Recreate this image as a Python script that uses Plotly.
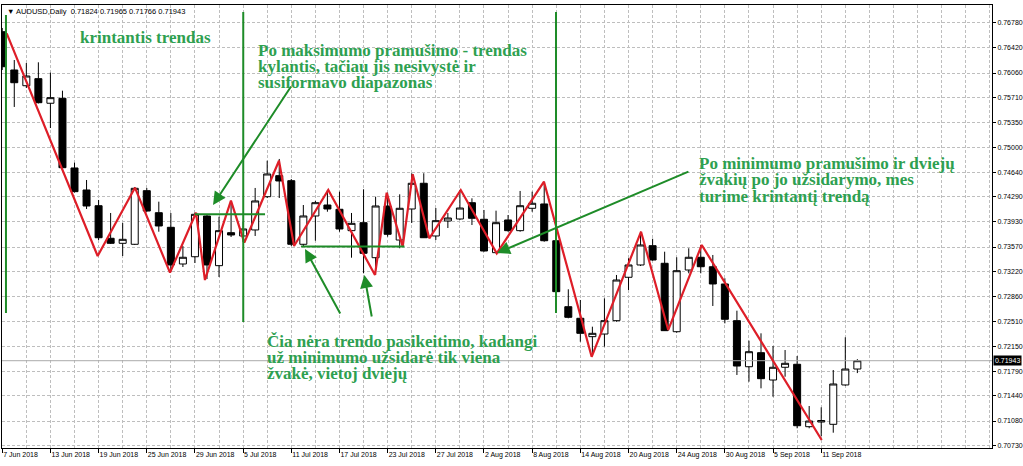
"""
AUDUSD daily chart with hand drawn trend notes (MT4 style)
"""
import pandas as pd
import plotly.graph_objects as go


# bars: trading days 7 Jun 2018 .. 14 Sep 2018
dates = pd.bdate_range('2018-06-07', '2018-09-14')

opens = [0.76651, 0.76103, 0.75878, 0.75979, 0.75627, 0.75698, 0.74701, 0.74386, 0.74161, 0.73695,
         0.73623, 0.73609, 0.74376, 0.74061, 0.73852, 0.73327, 0.73431, 0.74014, 0.73303, 0.73775,
         0.73728, 0.73814, 0.74290, 0.74591, 0.74519, 0.73609, 0.74014, 0.74171, 0.74110, 0.73804,
         0.73918, 0.73417, 0.74157, 0.73670, 0.74114, 0.74482, 0.73728, 0.73942, 0.73971, 0.74204,
         0.73967, 0.73489, 0.73957, 0.73804, 0.74124, 0.74186, 0.73660, 0.72716, 0.72550, 0.72287,
         0.72325, 0.72516, 0.73137, 0.73313, 0.73589, 0.73337, 0.72358, 0.73241, 0.73423, 0.73288,
         0.73041, 0.72516, 0.71857, 0.72058, 0.71667, 0.71849, 0.71892, 0.70999, 0.71066, 0.71033,
         0.71596, 0.71824]
highs = [0.76704, 0.76246, 0.76203, 0.76213, 0.76065, 0.75807, 0.74777, 0.74529, 0.74243, 0.74057,
         0.73914, 0.74429, 0.74415, 0.74219, 0.74057, 0.73585, 0.74061, 0.74028, 0.74004, 0.74200,
         0.73928, 0.74415, 0.74805, 0.74830, 0.74543, 0.74171, 0.74229, 0.74386, 0.74362, 0.74057,
         0.74396, 0.74290, 0.74347, 0.74324, 0.74625, 0.74625, 0.74128, 0.74057, 0.74386, 0.74267,
         0.74100, 0.74090, 0.74028, 0.74372, 0.74362, 0.74505, 0.73814, 0.72965, 0.72812, 0.72430,
         0.72836, 0.73170, 0.73409, 0.73789, 0.73688, 0.73503, 0.73423, 0.73552, 0.73599, 0.73456,
         0.73122, 0.72659, 0.72230, 0.72335, 0.72154, 0.72096, 0.72010, 0.71295, 0.71276, 0.71810,
         0.72278, 0.71965]
lows = [0.76103, 0.75574, 0.75846, 0.75624, 0.75273, 0.74694, 0.74350, 0.74114, 0.73670, 0.73613,
        0.73441, 0.73599, 0.74075, 0.73789, 0.73213, 0.73284, 0.73341, 0.73112, 0.73141, 0.73713,
        0.73642, 0.73728, 0.74271, 0.74271, 0.73585, 0.73575, 0.73660, 0.74075, 0.73789, 0.73417,
        0.73194, 0.73170, 0.73718, 0.73552, 0.73914, 0.73699, 0.73670, 0.73842, 0.73957, 0.73885,
        0.73503, 0.73480, 0.73789, 0.73789, 0.74075, 0.73646, 0.72912, 0.72550, 0.72215, 0.72010,
        0.72144, 0.72501, 0.72955, 0.73298, 0.73374, 0.72368, 0.72344, 0.73194, 0.73194, 0.72726,
        0.72478, 0.71739, 0.71643, 0.71548, 0.71428, 0.71714, 0.70976, 0.70976, 0.70866, 0.70913,
        0.71585, 0.71766]
closes = [0.76150, 0.75921, 0.76017, 0.75635, 0.75707, 0.74705, 0.74362, 0.74157, 0.73703, 0.73623,
          0.73680, 0.74410, 0.74085, 0.73871, 0.73313, 0.73423, 0.74038, 0.73313, 0.73804, 0.73742,
          0.73828, 0.74229, 0.74615, 0.74515, 0.73609, 0.74014, 0.74204, 0.74114, 0.73828, 0.73909,
          0.73480, 0.74157, 0.73752, 0.74124, 0.74482, 0.73703, 0.73947, 0.73985, 0.74128, 0.73981,
          0.73513, 0.73918, 0.73804, 0.74161, 0.74196, 0.73660, 0.72931, 0.72564, 0.72335, 0.72335,
          0.72516, 0.73098, 0.73313, 0.73599, 0.73384, 0.72373, 0.73231, 0.73423, 0.73288, 0.73041,
          0.72536, 0.71867, 0.72072, 0.71686, 0.71849, 0.71906, 0.71013, 0.71080, 0.71087, 0.71610,
          0.71824, 0.71943]

# price scale labels as printed by the terminal
price_ticks = [0.76780, 0.76420, 0.76060, 0.75710, 0.75350, 0.75000, 0.74640, 0.74290, 0.73930,
               0.73570, 0.73220, 0.72860, 0.72510, 0.72150, 0.71790, 0.71440, 0.71080, 0.70730]

# red zig-zag drawn over the bars (bar index, price)
zz_bar = [0.37, 7.92, 11.02, 13.93, 16.09, 16.83, 18.99, 20.1, 22.98, 24.23, 27.07, 30.95,
          31.92, 33.25, 34.08, 35.46, 38.07, 41.06, 44.98, 48.94, 53.04, 55.3, 58.08, 68.04]
zz_price = [0.76628, 0.73441, 0.74419, 0.73203, 0.74061, 0.73098, 0.74233, 0.73632, 0.74805,
            0.73585, 0.74386, 0.73170, 0.74347, 0.73575, 0.74611, 0.73695, 0.74386, 0.73480,
            0.74505, 0.71999, 0.73789, 0.72383, 0.73599, 0.70808]

# green marks: vertical lines, horizontal levels, arrows (tail -> head)
vline_bar = [0.31, 20.01, 45.98]
vline_top = [0.76890, 0.76933, 0.76933]
vline_bottom = [0.72626, 0.72497, 0.72626]
level_bars = [(16.0, 21.82), (24.8, 33.4)]
level_price = [0.74038, 0.73578]
arrows = [((24.06, 0.75889), (17.5, 0.74171)),
          ((57.1, 0.74658), (41.08, 0.73484)),
          ((28.13, 0.72597), (25.14, 0.73541)),
          ((30.70, 0.72554), (30.06, 0.73170))]

notes = [(6.29, [0.76561], ['krintantis trendas']),
         (21.07, [0.76389, 0.76160, 0.75931],
          ['Po maksimumo pramušimo - trendas', 'kylantis, tačiau jis nesivystė ir', 'susiformavo diapazonas']),
         (57.69, [0.74772, 0.74529, 0.74286],
          ['Po minimumo pramušimo ir dviejų', 'žvakių po jo užsidarymo, mes', 'turime krintantį trendą']),
         (21.82, [0.72225, 0.71996, 0.71753],
          ['Čia nėra trendo pasikeitimo, kadangi', 'už minimumo užsidarė tik viena', 'žvakė, vietoj dviejų'])]

green_line = 'rgb(30, 140, 40)'
green_text = 'rgb(46, 160, 80)'
red_line = 'rgb(222, 30, 40)'
grid_color = 'rgb(190, 190, 190)'

bars = list(range(len(dates)))
tick_bars = bars[::4][:18]
tick_text = [f'{d.day} {d:%b %Y}' for d in dates[::4][:18]]

fig = go.Figure()

fig.add_trace(go.Candlestick(x = bars, open = opens, high = highs, low = lows, close = closes,
                             increasing = dict(line = dict(color = 'black', width = 1), fillcolor = 'white'),
                             decreasing = dict(line = dict(color = 'black', width = 1), fillcolor = 'black'),
                             whiskerwidth = 0, hoverinfo = 'skip'))

# current price line
fig.add_trace(go.Scatter(x = [-1, 83], y = [closes[-1], closes[-1]], mode = 'lines',
                         line = dict(color = 'rgb(170, 170, 170)', width = 1), hoverinfo = 'skip'))

fig.add_trace(go.Scatter(x = zz_bar, y = zz_price, mode = 'lines',
                         line = dict(color = red_line, width = 2.2), hoverinfo = 'skip'))

for b, top, bottom in zip(vline_bar, vline_top, vline_bottom):
    fig.add_trace(go.Scatter(x = [b, b], y = [top, bottom], mode = 'lines',
                             line = dict(color = green_line, width = 2), hoverinfo = 'skip'))

for (b0, b1), p in zip(level_bars, level_price):
    fig.add_trace(go.Scatter(x = [b0, b1], y = [p, p], mode = 'lines',
                             line = dict(color = green_line, width = 2), hoverinfo = 'skip'))

for (tx, ty), (hx, hy) in arrows:
    fig.add_annotation(x = hx, y = hy, ax = tx, ay = ty,
                       xref = 'x', yref = 'y', axref = 'x', ayref = 'y',
                       text = '', showarrow = True,
                       arrowhead = 2, arrowsize = 1.3, arrowwidth = 2,
                       arrowcolor = green_line)

for b, ys, lines in notes:
    for y, line in zip(ys, lines):
        fig.add_annotation(x = b, y = y, xref = 'x', yref = 'y', text = f'<b>{line}</b>',
                           showarrow = False, xanchor = 'left', yanchor = 'middle',
                           font = dict(family = 'Liberation Serif', size = 17, color = green_text))

# terminal header
fig.add_annotation(x = 0.003, y = 0.985, xref = 'paper', yref = 'paper', showarrow = False,
                   xanchor = 'left', yanchor = 'middle',
                   text = f'▼ AUDUSD,Daily  {opens[-1]:.5f} {highs[-1]:.5f} {lows[-1]:.5f} {closes[-1]:.5f}',
                   font = dict(family = 'Liberation Sans', size = 7.5, color = 'black'))

# last price tag on the scale
fig.add_annotation(x = 1, y = closes[-1], xref = 'paper', yref = 'y', showarrow = False,
                   xanchor = 'left', yanchor = 'middle', xshift = 1,
                   text = f'{closes[-1]:.5f}', bgcolor = 'black', borderpad = 1,
                   font = dict(family = 'Liberation Sans', size = 7, color = 'white'))

fig.update_layout(
    showlegend = False,
    autosize = False,
    width = 1023,
    height = 466,
    margin = dict(l = 2, r = 31, t = 5, b = 18),
    paper_bgcolor = 'white',
    plot_bgcolor = 'white',
    boxgap = 0.17,
    font = dict(family = 'Liberation Sans', size = 7, color = 'black'))

fig.update_xaxes(range = [-0.02, 82.18], rangeslider = dict(visible = False), automargin = False,
                 tickmode = 'array', tickvals = tick_bars, ticktext = tick_text, tickangle = 0,
                 ticklabelposition = 'outside right',
                 showgrid = True, gridcolor = grid_color, griddash = '3px,2px', gridwidth = 1,
                 minor = dict(dtick = 2, tick0 = 0, showgrid = True, gridcolor = grid_color,
                              griddash = '3px,2px', ticks = ''),
                 showline = True, linewidth = 1, linecolor = 'black', mirror = True,
                 ticks = 'outside', ticklen = 4, tickcolor = 'black', zeroline = False)
fig.update_yaxes(range = [0.70694, 0.77033], side = 'right', automargin = False,
                 tickmode = 'array', tickvals = price_ticks, ticktext = [f'{v:.5f}' for v in price_ticks],
                 showgrid = True, gridcolor = grid_color, griddash = '3px,2px', gridwidth = 1,
                 showline = True, linewidth = 1, linecolor = 'black', mirror = True,
                 ticks = 'outside', ticklen = 3, tickcolor = 'black', zeroline = False)

# page has default body margin, drop it so the chart sits at the window corner
fig.write_html('out.html', config = dict(displayModeBar = False),
               post_script = "document.body.style.margin = '0';")
